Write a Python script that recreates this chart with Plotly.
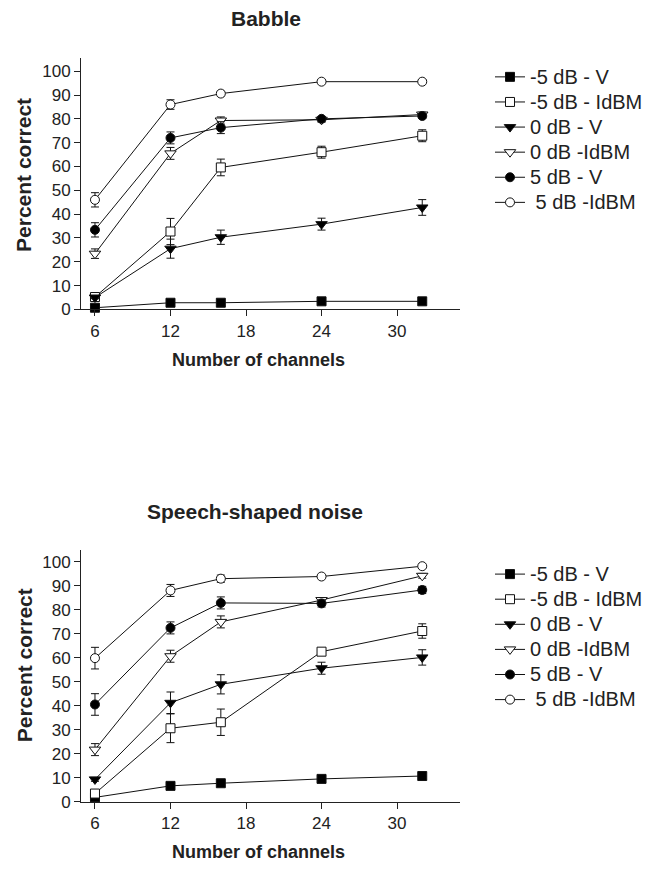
import plotly.graph_objects as go

channels = [6, 12, 16, 24, 32]
names = ["-5 dB - V", "-5 dB - IdBM", "0 dB - V", "0 dB -IdBM", "5 dB - V", " 5 dB -IdBM"]

# Babble
bab_m5V = [0.7, 2.8, 2.8, 3.4, 3.4]
bab_m5V_err = [0.5, 0.5, 0.5, 0.5, 0.5]
bab_m5I = [5.2, 32.7, 59.6, 66.0, 72.9]
bab_m5I_err = [0.8, 5.5, 3.5, 2.5, 2.5]
bab_0V = [5.0, 25.5, 30.3, 35.8, 42.8]
bab_0V_err = [0.5, 4.0, 3.0, 2.5, 3.3]
bab_0I = [23.4, 65.5, 79.3, 79.6, 81.8]
bab_0I_err = [2.0, 2.5, 1.5, 1.0, 1.0]
bab_5V = [33.4, 72.0, 76.3, 80.0, 81.2]
bab_5V_err = [3.0, 2.5, 2.5, 1.0, 1.0]
bab_5I = [46.0, 86.0, 90.6, 95.6, 95.6]
bab_5I_err = [3.0, 2.0, 1.0, 0.8, 0.8]

# Speech-shaped noise
ssn_m5V = [1.8, 6.6, 7.7, 9.5, 10.7]
ssn_m5V_err = [0.5, 0.5, 0.5, 0.8, 1.5]
ssn_m5I = [3.4, 30.6, 33.1, 62.5, 71.1]
ssn_m5I_err = [0.8, 6.0, 5.5, 1.2, 3.0]
ssn_0V = [9.3, 41.2, 48.9, 55.6, 60.1]
ssn_0V_err = [0.8, 4.5, 4.0, 2.5, 3.2]
ssn_0I = [21.7, 60.6, 74.9, 84.0, 94.1]
ssn_0I_err = [2.5, 2.5, 2.5, 1.0, 1.0]
ssn_5V = [40.5, 72.4, 82.8, 82.6, 88.2]
ssn_5V_err = [4.5, 2.5, 2.5, 1.5, 1.5]
ssn_5I = [59.8, 88.0, 92.9, 93.8, 98.1]
ssn_5I_err = [4.5, 2.5, 1.5, 0.5, 0.5]

y_ticks = list(range(0, 101, 10))
x_ticks = [6, 12, 18, 24, 30]

FONT = "Liberation Sans, Arial, sans-serif"
TXT = "#222"
styles = [
    ("square", "black", 9),
    ("square", "white", 9),
    ("triangle-down", "black", 10),
    ("triangle-down", "white", 10),
    ("circle", "black", 9),
    ("circle", "white", 9),
]

fig = go.Figure()

panels = [
    ("x", "y", "legend", [bab_m5V, bab_m5I, bab_0V, bab_0I, bab_5V, bab_5I],
     [bab_m5V_err, bab_m5I_err, bab_0V_err, bab_0I_err, bab_5V_err, bab_5I_err]),
    ("x2", "y2", "legend2", [ssn_m5V, ssn_m5I, ssn_0V, ssn_0I, ssn_5V, ssn_5I],
     [ssn_m5V_err, ssn_m5I_err, ssn_0V_err, ssn_0I_err, ssn_5V_err, ssn_5I_err]),
]

for xa, ya, lg, series, errs in panels:
    for nm, vals, er, (sym, fill, sz) in zip(names, series, errs, styles):
        fig.add_trace(go.Scatter(
            x=channels, y=vals, mode="lines+markers",
            name='<span style="font-size:20px">%s</span>' % nm,
            xaxis=xa, yaxis=ya, legend=lg, cliponaxis=False,
            line=dict(color="#111", width=1),
            marker=dict(symbol=sym, color=fill, size=sz, line=dict(color="#111", width=1)),
            error_y=dict(type="data", array=er, color="#111", thickness=1, width=4),
        ))

W, H = 652, 873
def px_x(p):
    return p / W
def px_y(p):
    return 1 - p / H

axis_common = dict(showline=True, linecolor="#222", linewidth=1, ticks="outside",
                   ticklen=6, tickcolor="#222", showgrid=False, zeroline=False,
                   tickfont=dict(family=FONT, size=17, color=TXT))

xdom = [px_x(81), px_x(460)]
legend_common = dict(xanchor="left", yanchor="top",
                     font=dict(family=FONT, size=17, color=TXT), tracegroupgap=0,
                     bgcolor="rgba(0,0,0,0)")
fig.update_layout(
    width=W, height=H, plot_bgcolor="white", paper_bgcolor="white",
    margin=dict(l=0, r=0, t=0, b=0),
    xaxis=dict(domain=xdom, range=[4.89, 35.0], tickvals=x_ticks, anchor="y", **axis_common),
    yaxis=dict(domain=[px_y(313), px_y(59)], range=[0, 105.4], tickvals=y_ticks, anchor="x", **axis_common),
    xaxis2=dict(domain=xdom, range=[4.89, 35.0], tickvals=x_ticks, anchor="y2", **axis_common),
    yaxis2=dict(domain=[px_y(811), px_y(556)], range=[0, 105], tickvals=y_ticks, anchor="x2", **axis_common),
    legend=dict(x=px_x(490), y=px_y(60), **legend_common),
    legend2=dict(x=px_x(490), y=px_y(563), **legend_common),
    showlegend=True,
)

ann = []
for title, tx, ty, cy, xty in [("Babble", 266, 19, 177, 364),
                                ("Speech-shaped noise", 255, 517, 673, 862)]:
    ann.append(dict(text="<b>%s</b>" % title, x=px_x(tx), y=px_y(ty), xref="paper", yref="paper",
                    xanchor="center", yanchor="middle",
                    showarrow=False, font=dict(family=FONT, size=21, color=TXT)))
    ann.append(dict(text="<b>Percent correct</b>", x=px_x(24), y=px_y(cy), xref="paper", yref="paper",
                    xanchor="center", yanchor="middle",
                    showarrow=False, textangle=-90, font=dict(family=FONT, size=21, color=TXT)))
    ann.append(dict(text="<b>Number of channels</b>", x=px_x(258), y=px_y(xty), xref="paper", yref="paper",
                    xanchor="center", yanchor="middle",
                    showarrow=False, font=dict(family=FONT, size=18, color=TXT)))
fig.update_layout(annotations=ann)

fig.write_html("out.html", config={"displayModeBar": False},
               post_script="document.body.style.margin='0';")
